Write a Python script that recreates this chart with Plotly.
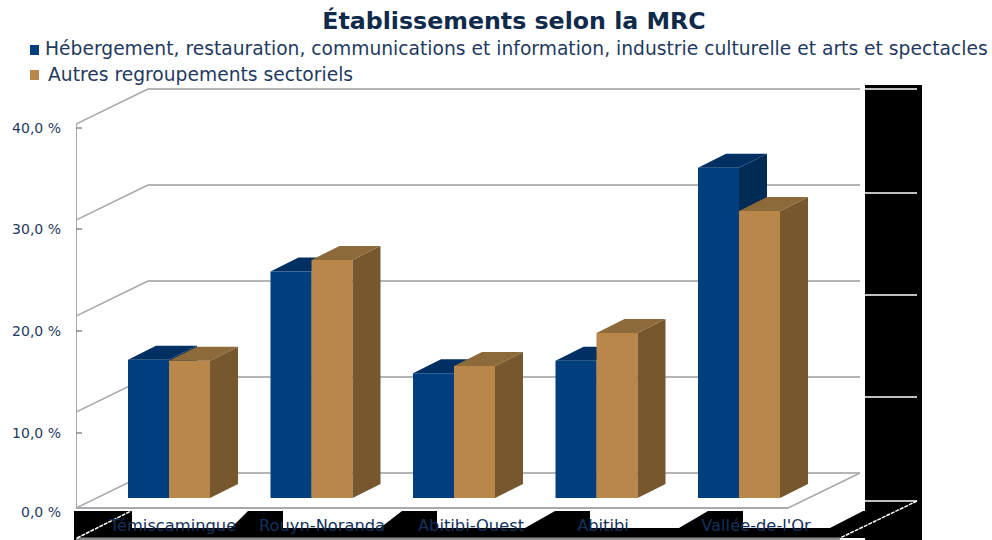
import plotly.graph_objects as go

CATEGORIES = ["Témiscamingue", "Rouyn-Noranda", "Abitibi-Ouest", "Abitibi", "Vallée-de-l'Or"]
SERIES_NAMES = ["Hébergement, restauration, communications et information, industrie culturelle et arts et spectacles",
                "Autres regroupements sectoriels"]
HEBERGEMENT = [14.4, 23.6, 13.0, 14.3, 34.4]
AUTRES = [14.3, 24.8, 13.75, 17.2, 29.9]
Y_TICK_TEXT = ["0,0 %", "10,0 %", "20,0 %", "30,0 %", "40,0 %"]
GRID_VALUES = [0, 10, 20, 30, 40]

# geometry -------------------------------------------------------------
W, H = 992, 540
L, R, T, B = 76, 864, 85, 514
PX_PER_PCT = 9.6
PX_PER_CAT = 142.5
BASE_PX_Y = 498
CAT0_PX_X = 169
def ux(px): return (px - CAT0_PX_X) / PX_PER_CAT
def uy(px): return (BASE_PX_Y - px) / PX_PER_PCT
def nx(px): return (px - L) / (R - L)
def ny(px): return (B - px) / (B - T)

BAR_W = 41 / PX_PER_CAT
DX, DY = 28 / PX_PER_CAT, 14 / PX_PER_PCT
Y_TICK_PX = [512, 433, 331, 229, 128]
X_LABEL_PX = [173, 322, 471, 603, 756]

BLUE, BLUE_TOP, BLUE_SIDE = "#003E7E", "#003063", "#002B55"
TAN, TAN_TOP, TAN_SIDE = "#B98749", "#8C6A3A", "#76572E"
GREY = "#A8A8AE"
TEXT = "#1F3A5F"
FONT = "DejaVu Sans"

def faces(vals, left_off):
    sx, sy, tx, ty = [], [], [], []
    for i, v in enumerate(vals):
        a = i + left_off
        b = a + BAR_W
        sx += [b, b + DX, b + DX, b, b, None]
        sy += [0, DY, v + DY, v, 0, None]
        tx += [a, a + DX, b + DX, b, a, None]
        ty += [v, v + DY, v + DY, v, v, None]
    return sx, sy, tx, ty

def poly(xs, ys, color, xa="x", ya="y"):
    return go.Scatter(x=xs, y=ys, mode="lines", fill="toself", fillcolor=color,
                      line=dict(width=0, color=color), hoverinfo="skip",
                      showlegend=False, xaxis=xa, yaxis=ya)

fig = go.Figure()
idx = list(range(len(CATEGORIES)))

# blue depth faces sit behind everything
bsx, bsy, btx, bty = faces(HEBERGEMENT, -BAR_W)
fig.add_trace(poly(bsx, bsy, BLUE_SIDE))
fig.add_trace(poly(btx, bty, BLUE_TOP))
# fronts go on an overlaying subplot so they cover the blue depth faces
fig.add_trace(go.Bar(x=idx, y=HEBERGEMENT, name=SERIES_NAMES[0], width=BAR_W, offset=-BAR_W,
                     marker=dict(color=BLUE, line=dict(width=0)), xaxis="x2", yaxis="y2", showlegend=False))
fig.add_trace(go.Bar(x=idx, y=AUTRES, name=SERIES_NAMES[1], width=BAR_W, offset=0,
                     marker=dict(color=TAN, line=dict(width=0)), xaxis="x2", yaxis="y2", showlegend=False))
tsx, tsy, ttx, tty = faces(AUTRES, 0)
fig.add_trace(poly(tsx, tsy, TAN_SIDE, "x2", "y2"))
fig.add_trace(poly(ttx, tty, TAN_TOP, "x2", "y2"))

shapes = []
def rect(x0, y0, x1, y1, color):
    shapes.append(dict(type="rect", xref="paper", yref="paper", x0=nx(x0), x1=nx(x1), y0=ny(y1), y1=ny(y0),
                       fillcolor=color, line=dict(width=0), layer="below"))
def polygon(pts, color):
    path = "M" + " L".join(f"{nx(a):.5f},{ny(b):.5f}" for a, b in pts) + " Z"
    shapes.append(dict(type="path", xref="paper", yref="paper", path=path,
                       fillcolor=color, line=dict(width=0), layer="below"))
def pline(x0, y0, x1, y1, color, width=1.5, dash="solid"):
    shapes.append(dict(type="line", xref="paper", yref="paper", x0=nx(x0), x1=nx(x1), y0=ny(y0), y1=ny(y1),
                       line=dict(color=color, width=width, dash=dash), layer="below"))
def dline(x0, y0, x1, y1, color=GREY, width=1.5):
    shapes.append(dict(type="line", xref="x", yref="y", x0=x0, x1=x1, y0=y0, y1=y1,
                       line=dict(color=color, width=width), layer="below"))

# black artefact areas of the source picture
rect(865, 85, 922, 540, "#000000")
rect(74, 511, 865, 538, "#000000")
rect(76, 537.5, 840, 540, "#8E8E8E")
rect(74, 538, 76, 540, "#000000")
polygon([(132, 511), (248, 511), (231, 528), (132, 528)], "#FFFFFF")
polygon([(283, 511), (402, 511), (380, 528), (283, 528)], "#FFFFFF")
polygon([(437, 511), (555, 511), (525, 528), (437, 528)], "#FFFFFF")
polygon([(590, 511), (708, 511), (679, 528), (590, 528)], "#FFFFFF")
polygon([(743, 511), (865, 511), (865, 510), (830, 528), (743, 528)], "#FFFFFF")
pline(77, 538, 131, 511, "#FFFFFF", 1.5, "4px,1px")
pline(917, 501, 840, 538, "#FFFFFF", 1.5, "4px,1px")
for yy in [89, 193, 295, 397, 501]:
    pline(865, yy, 917, yy, "#FFFFFF", 1.5)

# frame: back grid, left wall, floor
XL_F, XL_B = ux(76), ux(148)
XR_F, XR_B = ux(788), ux(860)
Y_F, Y_B = uy(508), uy(473)
for g in GRID_VALUES:
    dline(XL_B, g + Y_B, XR_B, g + Y_B, "#9C9CA2")
    dline(XL_F, g + Y_F, XL_B, g + Y_B)
dline(XL_F, Y_F, XL_F, 40 + Y_F, "#A8A8AE", 2)
dline(XL_F, Y_F, XR_F, Y_F, "#A8A8AE", 2)
dline(XR_F, Y_F, XR_B, Y_B)
for p in Y_TICK_PX[1:]:
    dline(XL_F, uy(p), ux(82), uy(p), "#8A8A90", 1.5)

# legend drawn as in the source: square + text
rect(30, 45, 39, 55, BLUE)
rect(30, 70, 39, 80, TAN)
annotations = [
    dict(text=SERIES_NAMES[0], xref="paper", yref="paper", x=nx(44), y=ny(49), xanchor="left", yanchor="middle",
         showarrow=False, font=dict(family=FONT, size=18.7, color=TEXT), borderpad=0),
    dict(text=SERIES_NAMES[1], xref="paper", yref="paper", x=nx(47), y=ny(74), xanchor="left", yanchor="middle",
         showarrow=False, font=dict(family=FONT, size=18.7, color=TEXT), borderpad=0),
]

xr = [ux(L), ux(R)]
yr = [uy(B), uy(T)]
fig.update_layout(
    width=W, height=H, autosize=False,
    margin=dict(l=L, r=W - R, t=T, b=H - B),
    paper_bgcolor="#FFFFFF", plot_bgcolor="#FFFFFF",
    barmode="overlay", showlegend=False,
    font=dict(family=FONT, color=TEXT),
    title=dict(text="<b>Établissements selon la MRC</b>", xref="container", yref="container",
               x=514 / W, xanchor="center", y=1 - 21 / H, yanchor="middle",
               font=dict(family=FONT, size=23.7, color="#0F2A4A")),
    xaxis=dict(range=xr, showgrid=False, zeroline=False, showline=False, tickmode="array", automargin=False,
               tickvals=idx, ticktext=[""] * 5, ticks=""),
    yaxis=dict(range=yr, showgrid=False, zeroline=False, showline=False, tickmode="array", automargin=False,
               tickvals=[uy(p) for p in Y_TICK_PX], ticktext=Y_TICK_TEXT, ticks="", ticklabelstandoff=14,
               tickfont=dict(family=FONT, size=14, color=TEXT)),
    xaxis2=dict(range=xr, overlaying="x", showgrid=False, zeroline=False, showline=False, tickmode="array",
                automargin=False, tickvals=[ux(p) for p in X_LABEL_PX], ticktext=CATEGORIES, ticks="", tickangle=0,
                tickfont=dict(family=FONT, size=16.3, color="#12305A")),
    yaxis2=dict(range=yr, overlaying="y", showgrid=False, zeroline=False, showline=False, showticklabels=False,
                automargin=False),
    shapes=shapes, annotations=annotations,
)
fig.write_html("out.html", config={"displayModeBar": False},
               post_script="document.body.style.margin='0';document.body.style.overflow='hidden';")
